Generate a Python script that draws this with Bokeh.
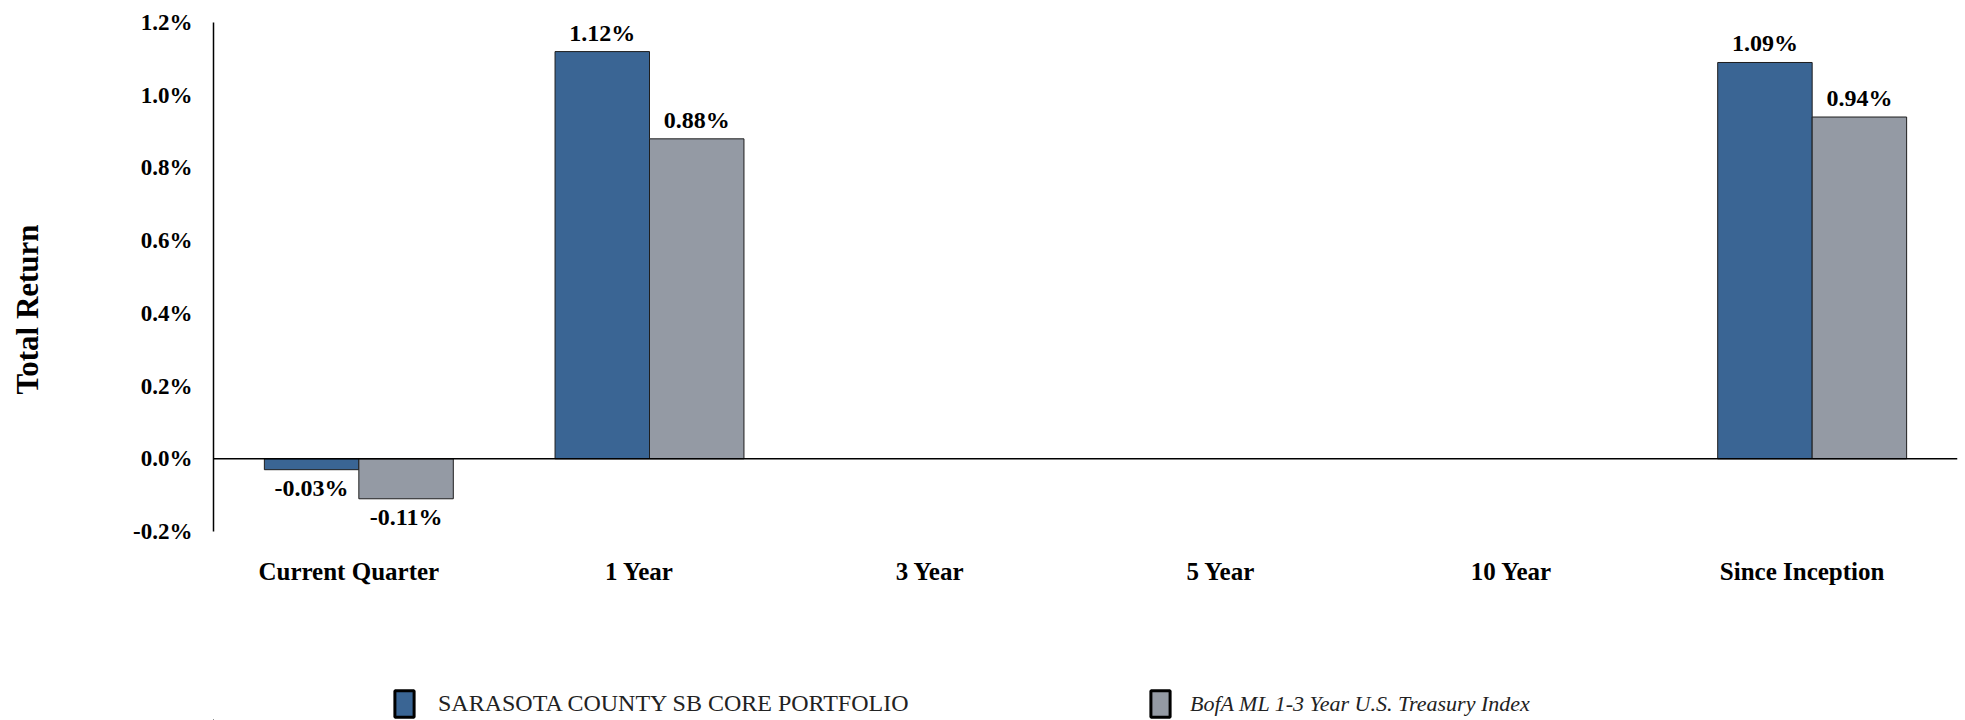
import math
from bokeh.plotting import figure
from bokeh.layouts import column, row
from bokeh.models import (ColumnDataSource, Span, Legend, LegendItem, FixedTicker,
                          CustomJSTickFormatter, Range1d, Label)
from bokeh.transform import dodge
from bokeh.core.properties import value
from bokeh.embed import file_html
from bokeh.resources import INLINE

categories = ["Current Quarter", "1 Year", "3 Year", "5 Year", "10 Year", "Since Inception"]
portfolio = [-0.03, 1.12, None, None, None, 1.09]
benchmark = [-0.11, 0.88, None, None, None, 0.94]
y_ticks = [-0.2, 0.0, 0.2, 0.4, 0.6, 0.8, 1.0, 1.2]
series_names = ["SARASOTA COUNTY SB CORE PORTFOLIO", "BofA ML 1-3 Year U.S. Treasury Index"]
y_title = "Total Return"

BLUE = "#3A6594"
GRAY = "#949AA4"
FONT = "Liberation Serif"
BAR_W = 0.325
LABEL_SHIFT = 0.0345   # category labels sit slightly left of the bar groups
TITLE_W = 60

n = len(categories)
p = figure(width=1965 - TITLE_W, height=680, x_range=Range1d(0, n), y_range=(-0.2, 1.2),
           output_backend="svg", toolbar_location=None,
           min_border_left=213 - TITLE_W, min_border_right=8, min_border_top=22, min_border_bottom=149)
p.outline_line_color = None
p.xgrid.grid_line_color = None
p.ygrid.grid_line_color = None

def nan(v):
    return float("nan") if v is None else v

centers = [i + 0.5 for i in range(n)]
src = ColumnDataSource(dict(xc=centers, cat=categories,
                            port=[nan(v) for v in portfolio],
                            bench=[nan(v) for v in benchmark]))

p.vbar(x=dodge("xc", -BAR_W / 2), top="port", bottom=0, width=BAR_W,
       source=src, fill_color=BLUE, line_color="#1e1e1e", line_width=1)
p.vbar(x=dodge("xc", BAR_W / 2), top="bench", bottom=0, width=BAR_W,
       source=src, fill_color=GRAY, line_color="#1e1e1e", line_width=1)

p.add_layout(Span(location=0, dimension="width", line_color="black", line_width=1.5))

def label_src(vals, positive):
    xs, ys, txt = [], [], []
    for xc, v in zip(centers, vals):
        if v is None:
            continue
        if (v >= 0) == positive:
            xs.append(xc); ys.append(v); txt.append(f"{v:.2f}%")
    return ColumnDataSource(dict(xc=xs, y=ys, t=txt))

for vals, off in ((portfolio, -BAR_W / 2), (benchmark, BAR_W / 2)):
    p.text(x=dodge("xc", off), y="y", text="t", source=label_src(vals, True),
           text_font=value(FONT), text_font_style="bold", text_font_size="24px",
           text_align="center", text_baseline="bottom", y_offset=-6, text_color="black")
    p.text(x=dodge("xc", off), y="y", text="t", source=label_src(vals, False),
           text_font=value(FONT), text_font_style="bold", text_font_size="24px",
           text_align="center", text_baseline="top", y_offset=5, text_color="black")

p.yaxis.ticker = FixedTicker(ticks=y_ticks)
p.yaxis.formatter = CustomJSTickFormatter(code="return tick.toFixed(1) + '%';")
p.yaxis.major_tick_line_color = None
p.yaxis.minor_tick_line_color = None
p.yaxis.axis_line_color = "black"
p.yaxis.axis_line_width = 1.5
p.yaxis.major_label_standoff = 15
p.yaxis.major_label_text_font = FONT
p.yaxis.major_label_text_font_style = "bold"
p.yaxis.major_label_text_font_size = "23px"
p.yaxis.major_label_text_color = "black"

p.xaxis.ticker = FixedTicker(ticks=[c - LABEL_SHIFT for c in centers])
p.xaxis.formatter = CustomJSTickFormatter(args=dict(cats=categories, shift=LABEL_SHIFT),
                                          code="return cats[Math.round(tick + shift - 0.5)];")
p.xaxis.axis_line_color = None
p.xaxis.major_tick_line_color = None
p.xaxis.minor_tick_line_color = None
p.xaxis.major_label_standoff = 20
p.xaxis.major_label_text_font = FONT
p.xaxis.major_label_text_font_style = "bold"
p.xaxis.major_label_text_font_size = "25px"
p.xaxis.major_label_text_color = "black"

# y-axis title strip on the left
tf = figure(width=TITLE_W, height=680, x_range=Range1d(0, 1), y_range=Range1d(0, 1),
            output_backend="svg", toolbar_location=None,
            min_border_left=0, min_border_right=0, min_border_top=22, min_border_bottom=149)
tf.axis.visible = False
tf.grid.visible = False
tf.outline_line_color = None
tf.add_layout(Label(x=27, y=222, x_units="screen", y_units="screen", text=y_title,
                    angle=math.pi / 2, text_align="center", text_baseline="middle",
                    text_font=FONT, text_font_style="bold", text_font_size="31px",
                    text_color="black"))

# legend strip below the chart
lg = figure(width=1965, height=40, x_range=Range1d(0, 1), y_range=Range1d(0, 1),
            output_backend="svg", toolbar_location=None,
            min_border_left=213, min_border_right=8, min_border_top=0, min_border_bottom=0)
lg.axis.visible = False
lg.grid.visible = False
lg.outline_line_color = None
l1 = lg.vbar(x=[-10], top=[0], width=0.1, fill_color=BLUE, line_color="black", line_width=3)
l2 = lg.vbar(x=[-10], top=[0], width=0.1, fill_color=GRAY, line_color="black", line_width=3)

common = dict(orientation="horizontal", glyph_width=24, glyph_height=33, padding=0, margin=0,
              border_line_color=None, background_fill_alpha=0, label_text_font=FONT,
              label_text_color="#222222")
leg1 = Legend(items=[LegendItem(label=series_names[0], renderers=[l1])],
              location=(392 - 213, 0), label_standoff=22, label_text_font_size="24px", **common)
leg2 = Legend(items=[LegendItem(label=series_names[1], renderers=[l2])],
              location=(1148 - 213, 0), label_standoff=18, label_text_font_style="italic",
              label_text_font_size="22px", **common)
lg.add_layout(leg1, "center")
lg.add_layout(leg2, "center")

layout = column(row(tf, p, spacing=0), lg, spacing=0)
open("out.html", "w").write(file_html(layout, INLINE))
